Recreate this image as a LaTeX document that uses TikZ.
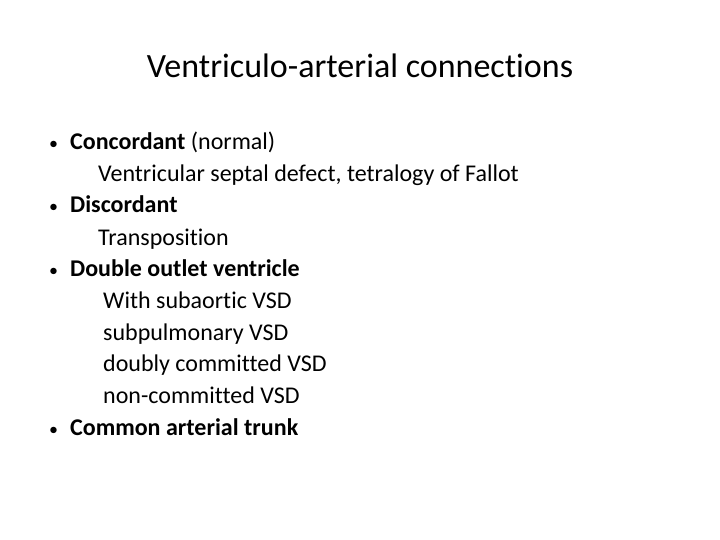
\documentclass[tikz,border=0pt]{standalone}
\usepackage{fontspec}
\setmainfont[Ligatures=NoCommon]{Carlito}
\usetikzlibrary{positioning}
\tikzset{
    every node/.style={inner sep=0pt, anchor=base west, font=\fontsize{24}{28}\selectfont},
    bullet/.style={font=\fontsize{24}{28}\selectfont\bfseries},
    sub/.style={font=\fontsize{24}{28}\selectfont},
    dot/.style={font=\fontsize{18}{22}\selectfont}
}
\begin{document}
\begin{tikzpicture}[x=1pt,y=-1pt]
    \useasboundingbox (0,0) rectangle (720,540);
    % Title
    \node[anchor=base, font=\fontsize{34}{40}\selectfont] (title) at (360,78) {Ventriculo-arterial connections};

    % Bullet marks
    \foreach \y in {150,213,276,435}
        \node[dot] (dot\y) at (49,\y) {\textbullet};

    % Items
    \node[bullet] (concordant) at (70,150) {Concordant \mdseries(normal)};
    \node[sub] (vsd) at (98,182) {Ventricular septal defect, tetralogy of Fallot};
    \node[bullet] (discordant) at (70,213) {Discordant};
    \node[sub] (transp) at (98,245) {Transposition};
    \node[bullet] (dorv) at (70,276) {Double outlet ventricle};
    \node[sub] (subaortic) at (103,308) {With subaortic VSD};
    \node[sub] (subpulm) at (103,340) {subpulmonary VSD};
    \node[sub] (doubly) at (103,371) {doubly committed VSD};
    \node[sub] (noncomm) at (103,403) {non-committed VSD};
    \node[bullet] (trunk) at (70,435) {Common arterial trunk};
\end{tikzpicture}
\end{document}
